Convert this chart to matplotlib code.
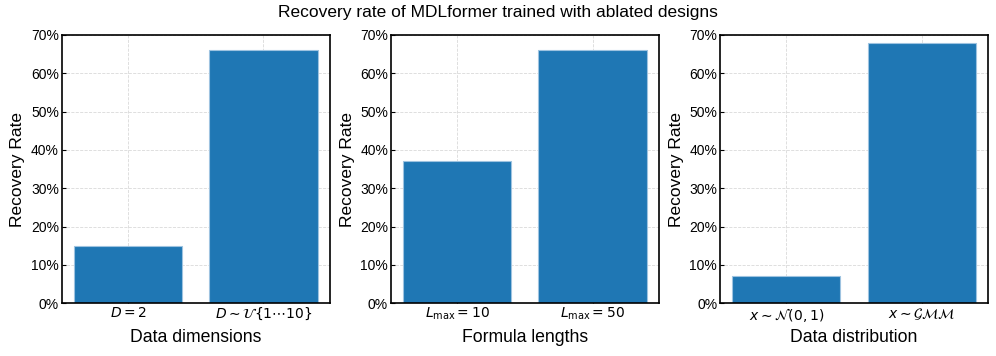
import numpy as np
import matplotlib
matplotlib.use("Agg")
import matplotlib.pyplot as plt
from matplotlib.ticker import PercentFormatter

plt.rcParams['font.family'] = ['Liberation Sans', 'DejaVu Sans']

# datos
dims_labels = [r'$D=2$', r'$D\sim\mathcal{U}\{1\cdots10\}$']
dims_rate = [15, 66]
len_labels = [r'$L_{\max}=10$', r'$L_{\max}=50$']
len_rate = [37, 66]
dist_labels = [r'$x\sim\mathcal{N}(0,1)$', r'$x\sim\mathcal{GMM}$']
dist_rate = [7, 68]

paneles = [
    (dims_labels, dims_rate, 'Data dimensions'),
    (len_labels, len_rate, 'Formula lengths'),
    (dist_labels, dist_rate, 'Data distribution'),
]

fig, axes = plt.subplots(1, 3, figsize=(9.96, 3.56), dpi=100)
fig.subplots_adjust(left=0.062, right=0.992, top=0.902, bottom=0.148, wspace=0.228)

for ax, (etq, vals, xlab) in zip(axes, paneles):
    x = np.arange(len(etq))
    ax.bar(x, vals, width=0.8, color='#1f77b4', edgecolor='#9ec3e0', linewidth=0.8, zorder=2)
    ax.set_xticks(x)
    ax.set_xticklabels(etq, fontsize=9.5)
    ax.set_ylim(0, 70)
    ax.set_yticks(np.arange(0, 71, 10))
    ax.yaxis.set_major_formatter(PercentFormatter(decimals=0))
    ax.tick_params(direction='in', labelsize=10, length=3, pad=2)
    ax.set_ylabel('Recovery Rate', fontsize=12.5)
    ax.set_xlabel(xlab, fontsize=12.7)
    ax.xaxis.set_label_coords(0.5, -0.097)
    ax.grid(True, linestyle='--', linewidth=0.6, color='#d9d9d9', zorder=0)
    ax.set_axisbelow(True)
    for s in ax.spines.values():
        s.set_linewidth(1.2)

fig.suptitle('Recovery rate of MDLformer trained with ablated designs', fontsize=12.5, y=0.985)

plt.savefig('out.png', dpi=100)
